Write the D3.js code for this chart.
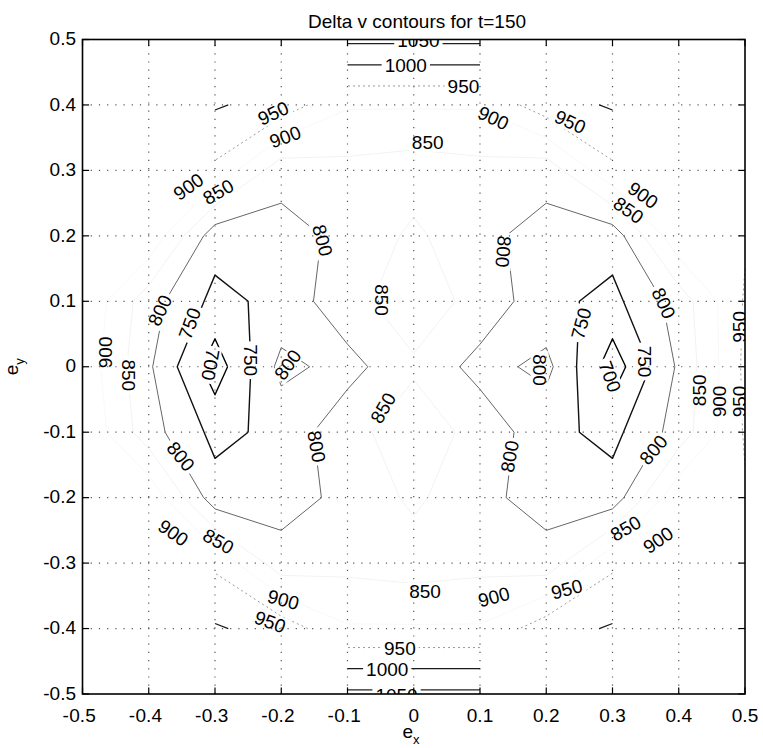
<!DOCTYPE html>
<html><head><meta charset="utf-8">
<script src="https://cdn.jsdelivr.net/npm/d3@7"></script>
<style>
body{margin:0;background:#fff}
svg{display:block}
text{font-family:"Liberation Sans",Arial,Helvetica,sans-serif;fill:#000}
</style>
</head><body>
<svg id="chart" width="763" height="748"></svg>
<script>
// ---- data ----
const gridX = [-0.5,-0.4,-0.3,-0.2,-0.1,0,0.1,0.2,0.3,0.4,0.5];
const gridY = [0.5,0.4,0.3,0.2,0.1,0,-0.1,-0.2,-0.3,-0.4,-0.5];
// delta v values (rows follow gridY, columns follow gridX); null = no solution
const deltaV = [
  [null,null,null,null,1060,1060,1060,null,null,null,null],
  [null,null,1005, 980, 905, 905, 905, 980,1005,null,null],
  [ 948, 945, 940, 820, 835, 825, 835, 820, 940, 945, 948],
  [ 945, 940, 771, 780, 813, 860, 813, 780, 771, 940, 945],
  [ 945, 821, 736, 764, 838, 870, 838, 764, 736, 821, 955],
  [ 935, 808, 673, 815, 780, 845, 780, 815, 673, 808, 960],
  [ 945, 821, 736, 764, 838, 870, 838, 764, 736, 821, 955],
  [ 945, 940, 771, 780, 813, 860, 813, 780, 771, 940, 945],
  [ 948, 945, 940, 820, 835, 825, 835, 820, 940, 945, 948],
  [null,null,1005, 980, 905, 905, 905, 980,1005,null,null],
  [null,null,null,null,1060,1060,1060,null,null,null,null]
];
const levels = [700,750,800,850,900,950,1000,1050];
const xTickValues = [-0.5,-0.4,-0.3,-0.2,-0.1,0,0.1,0.2,0.3,0.4,0.5];
const yTickValues = [-0.5,-0.4,-0.3,-0.2,-0.1,0,0.1,0.2,0.3,0.4,0.5];
const xTickLabels = ["-0.5","-0.4","-0.3","-0.2","-0.1","0","0.1","0.2","0.3","0.4","0.5"];
const yTickLabels = ["-0.5","-0.4","-0.3","-0.2","-0.1","0","0.1","0.2","0.3","0.4","0.5"];
const titleText = "Delta v contours for t=150";
// contour labels: level, ex, ey, angle
const labelLevels = [1050,1000,950,850,900,950,900,950,900,850,850,900,800,800,850,800,750,700,750,800,850,900,800,800,850,900,850,900,950,850,950,1000,1050,900,950,900,850,800,800,750,750,700,800,800,850,900,950,950];
const labelX = [0.007,-0.012,0.075,0.021,0.12,0.236,-0.194,-0.212,-0.34,-0.295,0.324,0.346,-0.138,0.135,-0.048,-0.383,-0.338,-0.307,-0.247,-0.19,-0.431,-0.465,-0.352,-0.147,-0.046,-0.363,-0.295,-0.197,-0.217,0.017,-0.021,-0.04,-0.026,0.121,0.231,0.369,0.32,0.377,0.362,0.253,0.349,0.296,0.19,0.145,0.432,0.462,0.492,0.492];
const labelY = [0.499,0.461,0.428,0.342,0.38,0.374,0.351,0.387,0.275,0.267,0.239,0.262,0.193,0.176,0.102,0.086,0.066,0.003,0.01,0.003,-0.013,0.022,-0.137,-0.122,-0.063,-0.254,-0.267,-0.356,-0.39,-0.344,-0.43,-0.463,-0.503,-0.352,-0.34,-0.265,-0.247,0.097,-0.127,0.066,0.008,-0.015,-0.005,-0.137,-0.036,-0.053,-0.053,0.061];
const labelAngle = [0,0,0,0,25,25,-20,-25,-35,-30,35,35,75,95,90,-65,-70,100,90,-55,90,-90,50,80,-60,35,30,15,20,0,0,0,0,-15,-15,-35,-30,65,-50,-75,90,70,90,-80,-90,-90,-90,-90];

// ---- layout ----
const W = 763, H = 748;
const L = 82.5, R = 745, T = 39.5, B = 694;
const FS = 19;
const svg = d3.select("#chart");
const x = d3.scaleLinear().domain([-0.5,0.5]).range([L,R]);
const y = d3.scaleLinear().domain([-0.5,0.5]).range([B,T]);

// level styles
const levelStyle = {
  700:{c:"#000",w:1.4,d:null},
  750:{c:"#111",w:1.4,d:null},
  800:{c:"#666",w:1,d:null},
  850:{c:"#efefef",w:0.8,d:null},
  900:{c:"#f6f6f6",w:0.8,d:null},
  950:{c:"#9a9a9a",w:1,d:"2,3"},
  1000:{c:"#1a1a1a",w:1.3,d:null},
  1050:{c:"#222",w:1.3,d:null}
};

// ---- grid ----
const defs = svg.append("defs");
defs.append("clipPath").attr("id","plotclip").append("rect")
  .attr("x",L).attr("y",T).attr("width",R-L).attr("height",B-T);

const grid = svg.append("g").attr("stroke","#555").attr("stroke-width",1.2)
  .attr("stroke-dasharray","1.2,7");
xTickValues.slice(1,-1).forEach(v=>{
  grid.append("line").attr("x1",x(v)).attr("x2",x(v)).attr("y1",B).attr("y2",T);
});
yTickValues.slice(1,-1).forEach(v=>{
  grid.append("line").attr("x1",L).attr("x2",R).attr("y1",y(v)).attr("y2",y(v));
});

// ---- marching squares on the data grid ----
function lerp(p, q, vp, vq, lv){ const t=(lv-vp)/(vq-vp); return [p[0]+(q[0]-p[0])*t, p[1]+(q[1]-p[1])*t]; }
function contourSegments(lv){
  const segs=[];
  for(let r=0;r<gridY.length-1;r++){
    for(let i=0;i<gridX.length-1;i++){
      const vtl=deltaV[r][i], vtr=deltaV[r][i+1], vbl=deltaV[r+1][i], vbr=deltaV[r+1][i+1];
      if(vtl==null||vtr==null||vbl==null||vbr==null) continue;
      const ptl=[gridX[i],gridY[r]], ptr=[gridX[i+1],gridY[r]], pbl=[gridX[i],gridY[r+1]], pbr=[gridX[i+1],gridY[r+1]];
      const hi=[vtl>=lv, vtr>=lv, vbr>=lv, vbl>=lv];
      const e={};
      if(hi[0]!==hi[1]) e.top=lerp(ptl,ptr,vtl,vtr,lv);
      if(hi[1]!==hi[2]) e.right=lerp(ptr,pbr,vtr,vbr,lv);
      if(hi[2]!==hi[3]) e.bottom=lerp(pbl,pbr,vbl,vbr,lv);
      if(hi[3]!==hi[0]) e.left=lerp(ptl,pbl,vtl,vbl,lv);
      const keys=Object.keys(e);
      if(keys.length===2){ segs.push([e[keys[0]],e[keys[1]]]); }
      else if(keys.length===4){
        const center=(vtl+vtr+vbl+vbr)/4;
        const adj=[["top","left"],["top","right"],["right","bottom"],["bottom","left"]];
        const isolateHigh = center < lv;
        for(let k=0;k<4;k++){
          if(hi[k]===isolateHigh){ segs.push([e[adj[k][0]],e[adj[k][1]]]); }
        }
      }
    }
  }
  return segs;
}
function chain(segs){
  const key=p=>p[0].toFixed(6)+","+p[1].toFixed(6);
  const used=new Array(segs.length).fill(false);
  const lines=[];
  for(let s=0;s<segs.length;s++){
    if(used[s]) continue;
    used[s]=true;
    let line=[segs[s][0],segs[s][1]];
    let grown=true;
    while(grown){
      grown=false;
      for(let t=0;t<segs.length;t++){
        if(used[t]) continue;
        const a=segs[t][0], b=segs[t][1];
        const head=key(line[0]), tail=key(line[line.length-1]);
        if(key(a)===tail){line.push(b);}
        else if(key(b)===tail){line.push(a);}
        else if(key(b)===head){line.unshift(a);}
        else if(key(a)===head){line.unshift(b);}
        else continue;
        used[t]=true; grown=true;
      }
    }
    lines.push(line);
  }
  return lines;
}

// ---- label mask ----
const labels = labelLevels.map((v,i)=>({v, ex:labelX[i], ey:labelY[i], a:labelAngle[i]}));
const measure = svg.append("text").attr("font-size",FS).attr("visibility","hidden");
labels.forEach(d=>{ measure.text(String(d.v)); d.w = measure.node().getComputedTextLength(); });
measure.remove();

const mask = defs.append("mask").attr("id","labelgap").attr("maskUnits","userSpaceOnUse")
  .attr("x",0).attr("y",0).attr("width",W).attr("height",H);
mask.append("rect").attr("x",0).attr("y",0).attr("width",W).attr("height",H).attr("fill","#fff");
labels.forEach(d=>{
  mask.append("rect")
    .attr("x",-d.w/2-3).attr("y",-9).attr("width",d.w+6).attr("height",18)
    .attr("fill","#000")
    .attr("transform",`translate(${x(d.ex)},${y(d.ey)}) rotate(${d.a})`);
});

// ---- contour lines ----
const lineGen = d3.line().x(p=>x(p[0])).y(p=>y(p[1]));
const cg = svg.append("g").attr("clip-path","url(#plotclip)").attr("mask","url(#labelgap)")
  .attr("fill","none").attr("stroke-linejoin","round");
levels.slice().reverse().forEach(lv=>{
  const st=levelStyle[lv];
  chain(contourSegments(lv)).forEach(line=>{
    const p=cg.append("path").attr("d",lineGen(line)).attr("stroke",st.c).attr("stroke-width",st.w);
    if(st.d) p.attr("stroke-dasharray",st.d);
  });
});

// ---- contour labels ----
const lg = svg.append("g").attr("clip-path","url(#plotclip)");
labels.forEach(d=>{
  lg.append("text").attr("font-size",FS).attr("text-anchor","middle")
    .attr("dominant-baseline","central")
    .attr("transform",`translate(${x(d.ex)},${y(d.ey)}) rotate(${d.a})`)
    .text(String(d.v));
});

// ---- axes box and ticks ----
const ax = svg.append("g").attr("stroke","#000").attr("fill","none");
ax.append("rect").attr("x",L).attr("y",T).attr("width",R-L).attr("height",B-T).attr("stroke-width",1.6);
const tl = 6.6;
xTickValues.forEach(v=>{
  ax.append("line").attr("x1",x(v)).attr("x2",x(v)).attr("y1",B).attr("y2",B-tl).attr("stroke-width",1.2);
  ax.append("line").attr("x1",x(v)).attr("x2",x(v)).attr("y1",T).attr("y2",T+tl).attr("stroke-width",1.2);
});
yTickValues.forEach(v=>{
  ax.append("line").attr("x1",L).attr("x2",L+tl).attr("y1",y(v)).attr("y2",y(v)).attr("stroke-width",1.2);
  ax.append("line").attr("x1",R).attr("x2",R-tl).attr("y1",y(v)).attr("y2",y(v)).attr("stroke-width",1.2);
});

// x tick labels: numeric part centered on tick, minus sign hanging left
const xl = svg.append("g").attr("font-size",FS);
xTickValues.forEach((v,i)=>{
  const s = xTickLabels[i];
  const neg = s.startsWith("-");
  const num = neg ? s.slice(1) : s;
  const t = xl.append("text").attr("x",x(v)).attr("y",721.5).attr("text-anchor","middle").text(num);
  if(neg){
    const w = t.node().getComputedTextLength();
    xl.append("text").attr("x",x(v)-w/2-0.5).attr("y",721.5).attr("text-anchor","end").text("-");
  }
});
// y tick labels
const yl = svg.append("g").attr("font-size",FS);
yTickValues.forEach((v,i)=>{
  yl.append("text").attr("x",76).attr("y",y(v)).attr("dy","0.3em").attr("text-anchor","end").text(yTickLabels[i]);
});

// axis titles
const xlab = svg.append("text").attr("x",411).attr("y",738).attr("font-size",FS).attr("text-anchor","middle");
xlab.append("tspan").text("e");
xlab.append("tspan").attr("font-size",13).attr("dy",6).text("x");
const ylab = svg.append("text").attr("transform",`translate(18,${y(0)}) rotate(-90)`).attr("font-size",FS).attr("text-anchor","middle");
ylab.append("tspan").text("e");
ylab.append("tspan").attr("font-size",13).attr("dy",6).text("y");

// title
svg.append("text").attr("x",417).attr("y",28).attr("font-size",FS).attr("text-anchor","middle").text(titleText);
</script>
</body></html>
